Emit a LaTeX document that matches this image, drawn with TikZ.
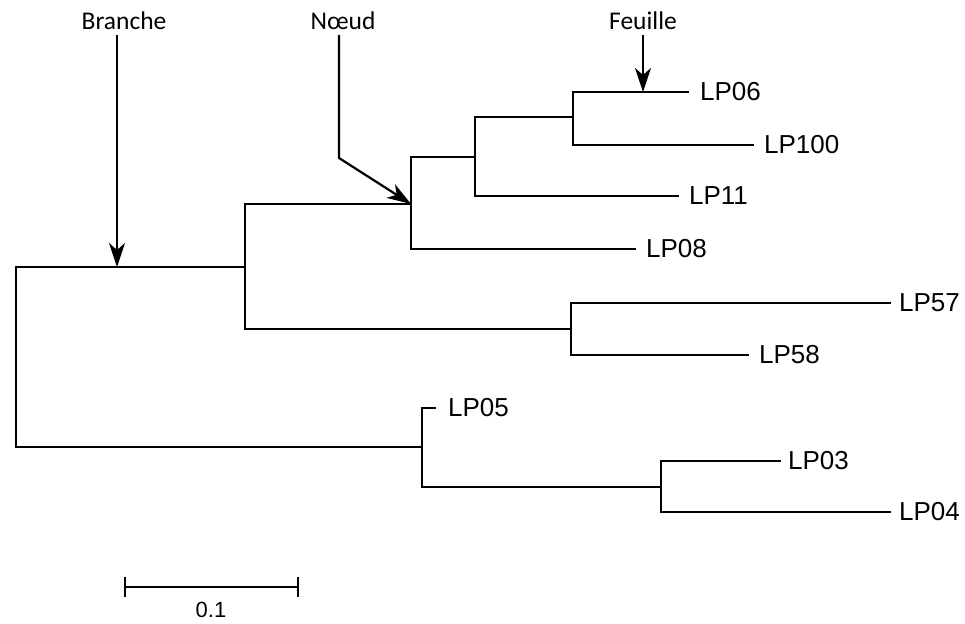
\documentclass[tikz,border=0pt]{standalone}
\usepackage{fontspec}
\setmainfont{Liberation Sans}
\newfontfamily\annfont{Carlito}
\usetikzlibrary{arrows.meta}
\begin{document}
\begin{tikzpicture}[x=1pt,y=-1pt,line width=2.2pt,
  leaf/.style={anchor=west,inner sep=0pt,font=\fontsize{26}{26}\selectfont},
  ann/.style={anchor=base,inner sep=0pt,font=\annfont\fontsize{25.5}{26}\selectfont},
  pointer/.style={-{Stealth[length=24pt,width=16pt,inset=7pt]},line width=2.2pt},
  branch/.style={line width=2.2pt,line cap=rect}]
\useasboundingbox[fill=white] (0,0) rectangle (965,623);
% internal nodes
\coordinate (rt) at (16,357);
\coordinate (A) at (245,267);
\coordinate (B) at (411,204);
\coordinate (C) at (475,157);
\coordinate (D) at (573,117);
\coordinate (E) at (571,329);
\coordinate (F) at (422,447);
\coordinate (G) at (661,487);
% leaf ends
\coordinate (l06) at (688,92);
\coordinate (l100) at (753,145);
\coordinate (l11) at (678,196);
\coordinate (l08) at (635,249);
\coordinate (l57) at (890,303);
\coordinate (l58) at (748,355);
\coordinate (l05) at (435,408);
\coordinate (l03) at (780,461);
\coordinate (l04) at (890,512);
% tree
\draw[branch] (rt) |- (A);
\draw[branch] (rt) |- (F);
\draw[branch] (A) |- (B);
\draw[branch] (A) |- (E);
\draw[branch] (B) |- (C);
\draw[branch] (B) |- (l08);
\draw[branch] (C) |- (D);
\draw[branch] (C) |- (l11);
\draw[branch] (D) |- (l06);
\draw[branch] (D) |- (l100);
\draw[branch] (E) |- (l57);
\draw[branch] (E) |- (l58);
\draw[branch] (F) |- (l05);
\draw[branch] (F) |- (G);
\draw[branch] (G) |- (l03);
\draw[branch] (G) |- (l04);
% leaf labels
\node[leaf] (t06) at ([xshift=11pt]l06) {LP06};
\node[leaf] (t100) at ([xshift=10pt]l100) {LP100};
\node[leaf] (t11) at ([xshift=10pt]l11) {LP11};
\node[leaf] (t08) at ([xshift=10pt]l08) {LP08};
\node[leaf] (t57) at ([xshift=8pt]l57) {LP57};
\node[leaf] (t58) at ([xshift=10pt]l58) {LP58};
\node[leaf] (t05) at ([xshift=12pt]l05) {LP05};
\node[leaf] (t03) at ([xshift=7pt]l03) {LP03};
\node[leaf] (t04) at ([xshift=8pt]l04) {LP04};
% annotations
\node[ann] (branche) at (124,30) {Branche};
\node[ann] (noeud) at (343,30) {Nœud};
\node[ann] (feuille) at (643,30) {Feuille};
\coordinate (bs) at (117,35);
\coordinate (bt) at (117,267);
\coordinate (ns) at (339,35);
\coordinate (nk) at (339,158);
\coordinate (fs) at (643,35);
\coordinate (ft) at (643,92);
\draw[pointer] (bs) -- (bt);
\draw[pointer] (ns) -- (nk) -- (B);
\draw[pointer] (fs) -- (ft);
% scale bar
\coordinate (s1) at (125,587);
\coordinate (s2) at (298,587);
\draw (s1) -- (s2);
\draw ([yshift=10pt]s1) -- ([yshift=-10pt]s1);
\draw ([yshift=10pt]s2) -- ([yshift=-10pt]s2);
\node[inner sep=0pt,font=\fontsize{22}{22}\selectfont] (sl) at (211,610) {0.1};
\end{tikzpicture}
\end{document}
